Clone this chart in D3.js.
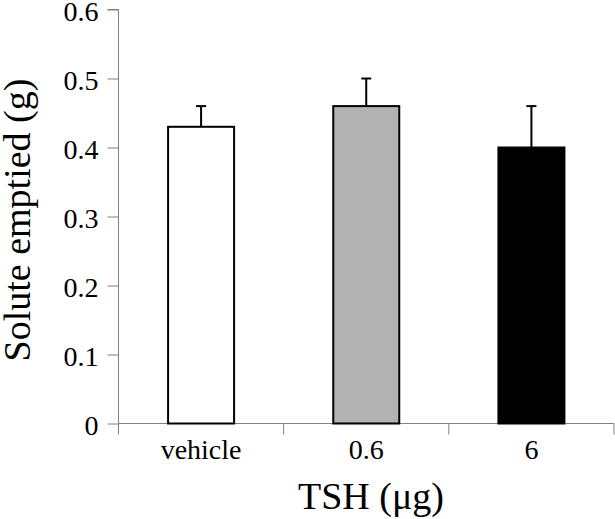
<!DOCTYPE html>
<html><head><meta charset="utf-8">
<script src="https://cdn.jsdelivr.net/npm/d3@7"></script>
<style>body{margin:0;background:#fff}svg{display:block}</style>
</head><body>
<svg id="c" width="615" height="519"></svg>
<script>
const categories = ["vehicle", "0.6", "6"];
const means = [0.43, 0.46, 0.40];
const errors = [0.03, 0.04, 0.06];
const fills = ["#ffffff", "#b2b2b2", "#000000"];
const yTicks = [0, 0.1, 0.2, 0.3, 0.4, 0.5, 0.6];
const yTickLabels = ["0", "0.1", "0.2", "0.3", "0.4", "0.5", "0.6"];

const svg = d3.select("#c");
const font = "Liberation Serif, Times New Roman, serif";
const x0 = 118.5, x1 = 614;
const y = d3.scaleLinear().domain([0, 0.6]).range([423.5, 9.5]);
const cx = d3.scaleBand().domain(categories).range([x0, x1]);
const bw = 66;

// y axis
const ya = svg.append("g").attr("transform", `translate(${x0},0)`)
  .call(d3.axisLeft(y).tickValues(yTicks).tickFormat((d,i)=>yTickLabels[i]).tickSize(11).tickPadding(9));
ya.select(".domain").attr("stroke", "#808080").attr("d", `M-11,${y(0.6)}H0V${y(0)}`);
ya.selectAll(".tick line").attr("stroke", "#808080");
ya.selectAll(".tick text").attr("font-family", font).attr("font-size", 28).attr("fill", "#000").attr("dy", "0.4em");

// x axis line with ticks at band edges
const xa = svg.append("g");
xa.append("line").attr("x1", x0).attr("x2", x1).attr("y1", y(0)).attr("y2", y(0)).attr("stroke", "#808080");
const bandEdges = [x0].concat(categories.map(c => cx(c) + cx.bandwidth()));
xa.selectAll("line.t").data(bandEdges).join("line").attr("class", "t")
  .attr("x1", d => d).attr("x2", d => d).attr("y1", y(0)).attr("y2", y(0) + 11).attr("stroke", "#808080");

// bars
svg.selectAll("rect.bar").data(categories).join("rect").attr("class", "bar")
  .attr("x", (d) => cx(d) + cx.bandwidth()/2 - bw/2)
  .attr("width", bw)
  .attr("y", (d,i) => y(means[i]))
  .attr("height", (d,i) => y(0) - y(means[i]))
  .attr("fill", (d,i) => fills[i]).attr("stroke", "#000").attr("stroke-width", 2);

// error bars
const eb = svg.append("g").attr("stroke", "#000").attr("stroke-width", 2);
categories.forEach((c, i) => {
  const mx = cx(c) + cx.bandwidth()/2;
  eb.append("line").attr("x1", mx).attr("x2", mx).attr("y1", y(means[i])).attr("y2", y(means[i] + errors[i]));
  eb.append("line").attr("x1", mx - 5).attr("x2", mx + 5).attr("y1", y(means[i] + errors[i])).attr("y2", y(means[i] + errors[i]));
});

// category labels
svg.selectAll("text.cat").data(categories).join("text").attr("class", "cat")
  .attr("x", d => cx(d) + cx.bandwidth()/2).attr("y", 459)
  .attr("text-anchor", "middle").attr("font-family", font).attr("font-size", 28).text(d => d);

// axis titles
svg.append("text").attr("x", 371).attr("y", 509).attr("text-anchor", "middle")
  .attr("font-family", font).attr("font-size", 38).text("TSH (μg)");
svg.append("text").attr("transform", "translate(30,220) rotate(-90)").attr("text-anchor", "middle")
  .attr("font-family", font).attr("font-size", 38).text("Solute emptied (g)");
</script>
</body></html>
